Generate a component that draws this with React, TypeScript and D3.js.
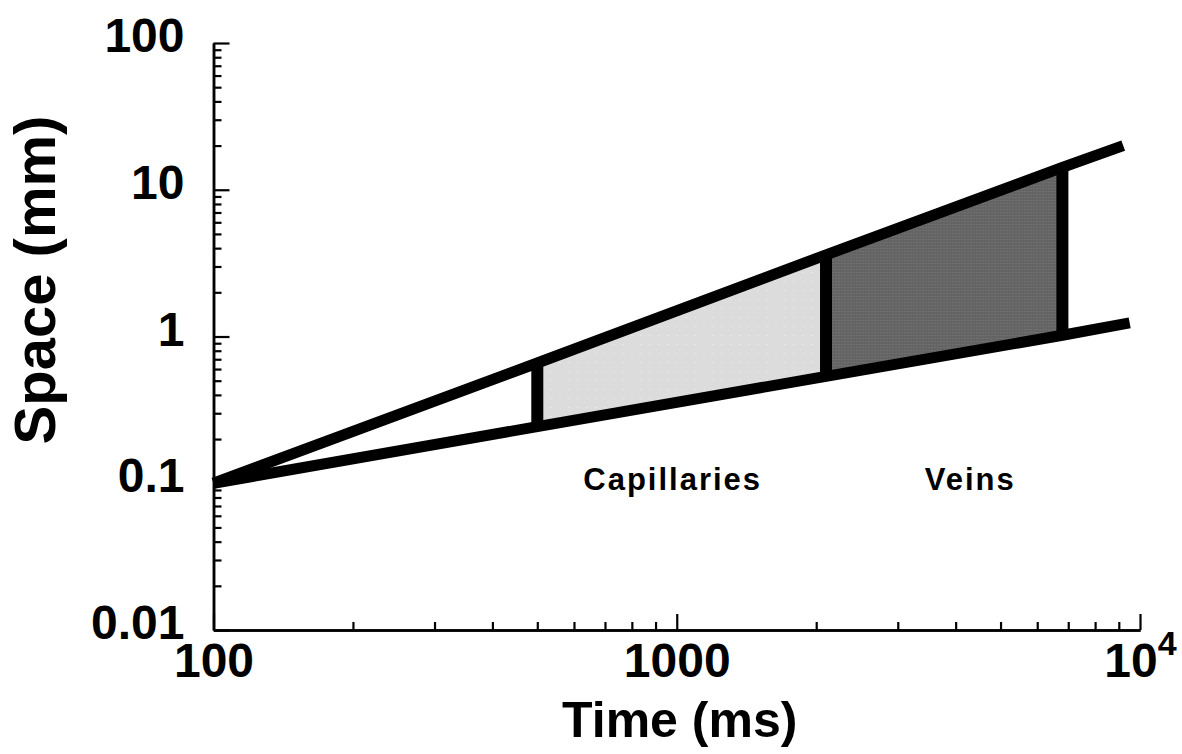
import { useEffect, useRef } from 'react'
import * as d3 from 'd3'

// axis ranges and labelled ticks
const timeDomain = [100, 10000]
const spaceDomain = [0.01, 100]
const timeTicks = [100, 1000, 10000]
const timeTickLabels = ['100', '1000', '10|4']
const spaceTicks = [0.01, 0.1, 1, 10, 100]
const spaceTickLabels = ['0.01', '0.1', '1', '10', '100']

// the two bounding lines
const upperTime = [100, 500, 2100, 6800, 9200]
const upperSpace = [0.1, 0.66, 3.6, 14.2, 20]
const lowerTime = [100, 500, 2100, 6800, 9500]
const lowerSpace = [0.1, 0.243, 0.535, 1.02, 1.24]

// vertical separators: indices into the line points above
const separatorIdx = [1, 2, 3]

// shaded regions between separators
const regionNames = ['Capillaries', 'Veins']
const regionFrom = [1, 2]
const regionTo = [2, 3]
const regionLabelTime = [980, 4300]
const regionLabelSpace = [0.09, 0.09]

const FONT = '"Liberation Sans", Arial, Helvetica, sans-serif'

export default function App() {
  const svgRef = useRef<SVGSVGElement>(null)

  useEffect(() => {
    if (!svgRef.current) return
    const svg = d3.select(svgRef.current)
    svg.selectAll('*').remove()

    const width = 1182
    const height = 754
    const margin = { top: 43, right: 42, bottom: 124, left: 213.5 }
    const innerWidth = width - margin.left - margin.right
    const innerHeight = height - margin.top - margin.bottom

    const x = d3.scaleLog().domain(timeDomain).range([0, innerWidth])
    const y = d3.scaleLog().domain(spaceDomain).range([innerHeight, 0])

    // fill patterns (dotted greys)
    const defs = svg.append('defs')
    const lightPat = defs
      .append('pattern')
      .attr('id', 'lightDots')
      .attr('width', 9)
      .attr('height', 9)
      .attr('patternUnits', 'userSpaceOnUse')
    lightPat.append('rect').attr('width', 9).attr('height', 9).attr('fill', '#dcdcdc')
    lightPat.append('rect').attr('x', 4).attr('y', 4).attr('width', 1).attr('height', 1).attr('fill', '#f4f4f4')

    const darkPat = defs
      .append('pattern')
      .attr('id', 'darkDots')
      .attr('width', 3)
      .attr('height', 3)
      .attr('patternUnits', 'userSpaceOnUse')
    darkPat.append('rect').attr('width', 3).attr('height', 3).attr('fill', '#646464')
    darkPat.append('rect').attr('x', 1).attr('y', 1).attr('width', 1).attr('height', 1).attr('fill', '#7c7c7c')

    const g = svg.append('g').attr('transform', `translate(${margin.left},${margin.top})`)

    // Regions
    const fills = ['url(#lightDots)', 'url(#darkDots)']
    regionNames.forEach((_, r) => {
      const pts: [number, number][] = []
      for (let i = regionFrom[r]; i <= regionTo[r]; i++) pts.push([x(upperTime[i]), y(upperSpace[i])])
      for (let i = regionTo[r]; i >= regionFrom[r]; i--) pts.push([x(lowerTime[i]), y(lowerSpace[i])])
      g.append('path')
        .attr('d', d3.line()(pts) + 'Z')
        .attr('fill', fills[r])
    })

    // Separators
    separatorIdx.forEach((i) => {
      g.append('line')
        .attr('x1', x(upperTime[i]))
        .attr('x2', x(lowerTime[i]))
        .attr('y1', y(upperSpace[i]))
        .attr('y2', y(lowerSpace[i]))
        .attr('stroke', '#000')
        .attr('stroke-width', 12)
    })

    // Bounding lines
    const drawLine = (ts: number[], ss: number[]) => {
      const pts: [number, number][] = ts.map((t, i) => [x(t), y(ss[i])])
      g.append('path')
        .attr('d', d3.line()(pts))
        .attr('fill', 'none')
        .attr('stroke', '#000')
        .attr('stroke-width', 11)
        .attr('stroke-linejoin', 'miter')
    }
    drawLine(upperTime, upperSpace)
    drawLine(lowerTime, lowerSpace)

    // Region labels
    regionNames.forEach((name, r) => {
      g.append('text')
        .attr('x', x(regionLabelTime[r]))
        .attr('y', y(regionLabelSpace[r]))
        .attr('text-anchor', 'middle')
        .attr('font-family', FONT)
        .attr('font-weight', 'bold')
        .attr('font-size', 31)
        .attr('letter-spacing', 2)
        .text(name)
    })

    // Minor ticks
    const yMinor = y.ticks().filter((v) => !spaceTicks.some((m) => Math.abs(m - v) / m < 1e-6))
    const xMinor = x.ticks().filter((v) => !timeTicks.some((m) => Math.abs(m - v) / m < 1e-6))

    const yMinorAxis = g
      .append('g')
      .call(d3.axisLeft(y).tickValues(yMinor).tickSizeInner(-8).tickSizeOuter(0).tickFormat(() => ''))
    const xMinorAxis = g
      .append('g')
      .attr('transform', `translate(0,${innerHeight})`)
      .call(d3.axisBottom(x).tickValues(xMinor).tickSizeInner(-8).tickSizeOuter(0).tickFormat(() => ''))

    // Major ticks + labels
    const yAxis = g
      .append('g')
      .call(
        d3
          .axisLeft(y)
          .tickValues(spaceTicks)
          .tickSizeInner(-16)
          .tickSizeOuter(0)
          .tickPadding(29)
          .tickFormat((_, i) => spaceTickLabels[i])
      )
    const xAxis = g
      .append('g')
      .attr('transform', `translate(0,${innerHeight})`)
      .call(
        d3
          .axisBottom(x)
          .tickValues(timeTicks)
          .tickSizeInner(-16)
          .tickSizeOuter(0)
          .tickPadding(13)
          .tickFormat((_, i) => timeTickLabels[i])
      )

    for (const ax of [yMinorAxis, xMinorAxis, yAxis, xAxis]) {
      ax.attr('font-family', FONT).attr('font-size', 48).attr('font-weight', 'bold')
      ax.select('.domain').attr('stroke', '#000').attr('stroke-width', 2.5)
      ax.selectAll('.tick line').attr('stroke', '#000').attr('stroke-width', 2.2)
      ax.selectAll('.tick text').attr('fill', '#000')
    }
    yAxis.selectAll('.tick text').attr('dy', '8.5')

    // superscript for 10^4
    xAxis.selectAll<SVGTextElement, number>('.tick text').each(function () {
      const t = d3.select(this)
      const label = t.text()
      if (label.includes('|')) {
        const [base, exp] = label.split('|')
        t.text(base)
        t.append('tspan').attr('dy', -22).attr('font-size', 34).text(exp)
      }
    })

    // Axis titles
    g.append('text')
      .attr('x', innerWidth / 2 + 3)
      .attr('y', innerHeight + 107)
      .attr('text-anchor', 'middle')
      .attr('font-family', FONT)
      .attr('font-weight', 'bold')
      .attr('font-size', 50)
      .text('Time (ms)')

    g.append('text')
      .attr('transform', `translate(${55 - margin.left},${280 - margin.top}) rotate(-90)`)
      .attr('text-anchor', 'middle')
      .attr('font-family', FONT)
      .attr('font-weight', 'bold')
      .attr('font-size', 58)
      .text('Space (mm)')
  }, [])

  return (
    <svg
      ref={svgRef}
      width={1182}
      height={754}
      style={{ position: 'absolute', left: 0, top: 0, background: '#fff' }}
    />
  )
}
